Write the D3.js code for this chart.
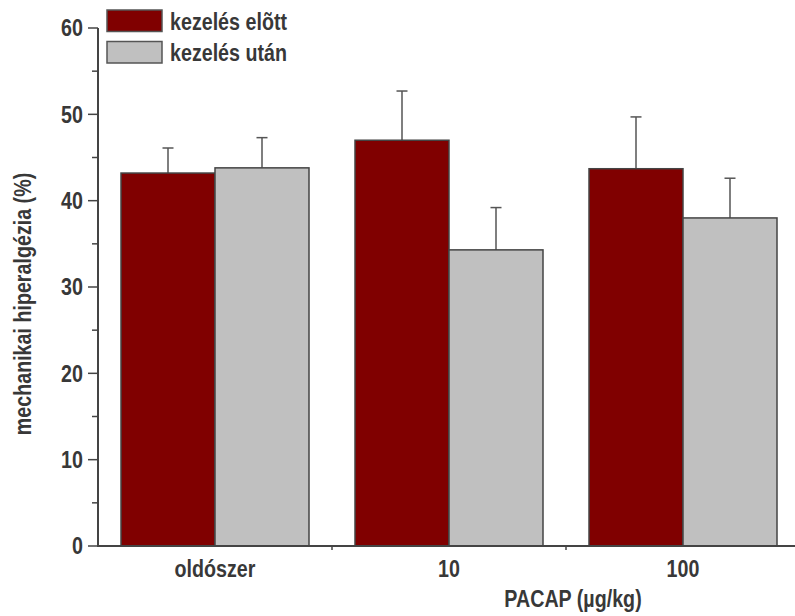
<!DOCTYPE html>
<html><head><meta charset="utf-8">
<script src="https://cdn.jsdelivr.net/npm/d3@7"></script>
<style>
body{margin:0;background:#fff;}
text{font-family:"Liberation Sans",Arial,sans-serif;font-weight:bold;fill:#383838;}
</style></head>
<body><svg id="c" width="795" height="616"></svg>
<script>
const categories = ["oldószer", "10", "100"];
const seriesNames = ["kezelés elõtt", "kezelés után"];
const before = [43.2, 47.0, 43.7];
const beforeErr = [2.9, 5.7, 6.0];
const after = [43.8, 34.3, 38.0];
const afterErr = [3.5, 4.9, 4.6];
const yTicks = [0, 10, 20, 30, 40, 50, 60];
const yMinor = [5, 15, 25, 35, 45, 55];
const colors = ["#800000", "#c0c0c0"];

const svg = d3.select("#c");
const narrow = 0.82;

function addText(x, y, str, anchor, rot, dy) {
  return svg.append("text")
    .attr("transform", `translate(${x},${y})${rot ? " rotate(" + rot + ")" : ""} scale(${narrow},1)`)
    .attr("text-anchor", anchor || "start")
    .attr("dy", dy || 0)
    .attr("font-size", 24)
    .text(str);
}

const axisX = 98, baseY = 546;
const y = d3.scaleLinear().domain([0, 60]).range([baseY, 28]);
const x0 = d3.scaleBand().domain(categories).range([axisX, axisX + 234 * 3]);
const groupW = 188;
const x1 = d3.scaleBand().domain(seriesNames).range([0, groupW]);
const off = (x0.bandwidth() - groupW) / 2;

const rows = categories.map((c, i) => ({
  cat: c,
  vals: [
    {s: seriesNames[0], v: before[i], e: beforeErr[i], col: colors[0]},
    {s: seriesNames[1], v: after[i], e: afterErr[i], col: colors[1]}
  ]
}));

const g = svg.append("g");
const groups = g.selectAll("g.grp").data(rows).join("g")
  .attr("transform", d => `translate(${x0(d.cat) + off},0)`);

groups.selectAll("g.err").data(d => d.vals).join("g").each(function(d) {
  const cx = x1(d.s) + x1.bandwidth() / 2;
  const sel = d3.select(this);
  sel.append("line").attr("x1", cx).attr("x2", cx)
    .attr("y1", y(d.v)).attr("y2", y(d.v + d.e))
    .attr("stroke", "#555").attr("stroke-width", 1.5);
  sel.append("line").attr("x1", cx - 5.5).attr("x2", cx + 5.5)
    .attr("y1", y(d.v + d.e)).attr("y2", y(d.v + d.e))
    .attr("stroke", "#555").attr("stroke-width", 1.5);
});

groups.selectAll("rect").data(d => d.vals).join("rect")
  .attr("x", d => x1(d.s))
  .attr("width", x1.bandwidth())
  .attr("y", d => y(d.v))
  .attr("height", d => baseY - y(d.v))
  .attr("fill", d => d.col)
  .attr("stroke", "#444").attr("stroke-width", 1.5);

// y axis
const yAxis = svg.append("g");
yAxis.append("line").attr("x1", axisX).attr("x2", axisX)
  .attr("y1", y(60)).attr("y2", baseY + 1).attr("stroke", "#444").attr("stroke-width", 2);
yTicks.forEach(t => {
  yAxis.append("line").attr("x1", axisX - 10).attr("x2", axisX)
    .attr("y1", y(t)).attr("y2", y(t)).attr("stroke", "#444").attr("stroke-width", 1.5);
  addText(axisX - 15, y(t), t, "end", 0, "0.35em");
});
yMinor.forEach(t => {
  yAxis.append("line").attr("x1", axisX - 6).attr("x2", axisX)
    .attr("y1", y(t)).attr("y2", y(t)).attr("stroke", "#444").attr("stroke-width", 1.5);
});

// x axis
svg.append("line").attr("x1", axisX).attr("x2", 795)
  .attr("y1", baseY).attr("y2", baseY).attr("stroke", "#444").attr("stroke-width", 2);
categories.forEach((c, i) => {
  if (i > 0) {
    svg.append("line").attr("x1", x0(c)).attr("x2", x0(c))
      .attr("y1", baseY).attr("y2", baseY + 4).attr("stroke", "#444").attr("stroke-width", 1.5);
  }
  addText(x0(c) + x0.bandwidth() / 2, 577, c, "middle");
});

addText(573, 607, "PACAP (µg/kg)", "middle");
addText(31, 304, "mechanikai hiperalgézia (%)", "middle", -90);

// legend
seriesNames.forEach((s, i) => {
  svg.append("rect").attr("x", 107).attr("y", 10 + i * 31.5).attr("width", 55).attr("height", 21.5)
    .attr("fill", colors[i]).attr("stroke", "#555").attr("stroke-width", 1.5);
  addText(170, 30 + i * 31, s, "start");
});
</script></body></html>
